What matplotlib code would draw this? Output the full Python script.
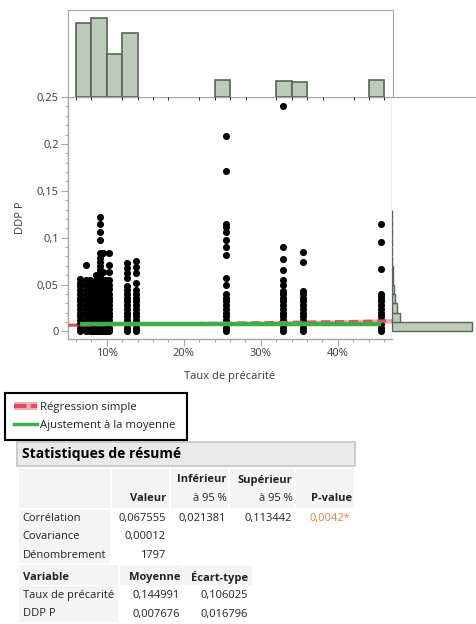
import numpy as np
import matplotlib
matplotlib.use("Agg")
import matplotlib.pyplot as plt
from matplotlib.patches import Rectangle, Patch
from matplotlib.lines import Line2D
from matplotlib.ticker import MultipleLocator, FixedLocator, FuncFormatter

plt.rcParams['font.family'] = ['Open Sans', 'DejaVu Sans']

#---------------------------Data---------------------------#
# scatter: one column of points per commune group (x = Taux de précarité)
col_x = [0.065, 0.0735, 0.078, 0.080, 0.082, 0.0845, 0.0865, 0.089, 0.091, 0.093,
         0.095, 0.097, 0.099, 0.101, 0.103, 0.126, 0.138, 0.2545, 0.329, 0.355, 0.456]
# dense lower part shared by every column (solid black mass)
dense_y = [0.0, 0.004, 0.008, 0.012, 0.016, 0.020, 0.024, 0.028, 0.032, 0.036, 0.040]
# upper points of each column
col_top = [
    [0.044, 0.048, 0.052, 0.056],
    [0.044, 0.049, 0.055, 0.071],
    [0.045, 0.050, 0.055],
    [0.044],
    [0.044, 0.048, 0.052],
    [0.044],
    [0.045, 0.050, 0.055, 0.060],
    [0.044],
    [0.045, 0.050, 0.055, 0.060, 0.065, 0.070, 0.074, 0.078, 0.084, 0.097, 0.106, 0.115, 0.122],
    [0.044],
    [0.045, 0.050, 0.055, 0.063, 0.084],
    [0.044],
    [0.045, 0.050, 0.055],
    [0.044],
    [0.045, 0.050, 0.055, 0.063, 0.071, 0.084],
    [0.044, 0.048, 0.057, 0.062, 0.068, 0.073],
    [0.044, 0.052, 0.062, 0.069, 0.075],
    [0.049, 0.057, 0.082, 0.090, 0.098, 0.106, 0.111, 0.115, 0.171, 0.208],
    [0.043, 0.050, 0.055, 0.065, 0.077, 0.090, 0.240],
    [0.043, 0.074, 0.085],
    [0.039, 0.067, 0.095, 0.115],
]

# marginal histogram of Taux de précarité (bins of 2 %)
taux_bin_left = [0.06, 0.08, 0.10, 0.12, 0.24, 0.32, 0.34, 0.44]
taux_counts = [407, 437, 239, 354, 96, 90, 81, 93]
taux_bin_width = 0.02

# marginal histogram of DDP P (bins of 0.01)
ddp_bin_low = [0.00, 0.01, 0.02, 0.03, 0.04, 0.05, 0.06, 0.07, 0.08, 0.09, 0.10, 0.11, 0.12]
ddp_counts = [1425, 150, 90, 54, 27, 20, 14, 5, 4, 4, 2, 2, 1]
ddp_bin_height = 0.01

# summary statistics
stat_rows = ["Corrélation", "Covariance", "Dénombrement"]
correlation = [0.067555, 0.021381, 0.113442]
p_value = 0.0042
covariance = 0.00012
n_obs = 1797
var_names = ["Taux de précarité", "DDP P"]
var_mean = [0.144991, 0.007676]
var_std = [0.106025, 0.016796]
#---------------------------------------------------------------------------------#

W, H = 476, 624


def fx(px):
    return px / W


def fy(py):
    return 1 - py / H


def fr(v, nd=6):
    return f"{v:.{nd}f}".replace('.', ',')


spine_col = '#a6a6a6'
text_col = '#3a3a3a'
bar_face = '#bdcbbb'
bar_edge = '#5b645a'
red = '#e0505f'
green = '#3fae49'
fs = 8

fig = plt.figure(figsize=(W / 100, H / 100), dpi=100)
fig.patch.set_facecolor('white')

ax = fig.add_axes([fx(68), fy(339), fx(324), 242 / H])
ax_top = fig.add_axes([fx(68), fy(97), fx(324.5), 87 / H], sharex=ax)
ax_right = fig.add_axes([fx(392), fy(339), fx(84), 242 / H], sharey=ax)

xlim = (0.0497, 0.4705)
ylim = (-0.0081, 0.25)

# scatter points
xs, ys = [], []
for x, top in zip(col_x, col_top):
    for y in dense_y + top:
        xs.append(x)
        ys.append(y)
ax.scatter(xs, ys, s=26, color='black', linewidths=0, zorder=2)

# simple regression from the summary statistics
r = correlation[0]
slope = r * var_std[1] / var_std[0]
intercept = var_mean[1] - slope * var_mean[0]
xr = np.linspace(xlim[0], xlim[1], 200)
yr = intercept + slope * xr
s_res = var_std[1] * np.sqrt(1 - r ** 2) * np.sqrt((n_obs - 1) / (n_obs - 2))
se = s_res * np.sqrt(1 / n_obs + (xr - var_mean[0]) ** 2 / ((n_obs - 1) * var_std[0] ** 2))
ax.fill_between(xr, yr - 1.96 * se, yr + 1.96 * se, color=red, alpha=0.45, lw=0, zorder=3)
ax.plot(xr, yr, color=red, lw=2.2, dashes=(3, 1.6), zorder=3)

# fit to the mean
ax.plot([min(col_x), max(col_x)], [var_mean[1], var_mean[1]], color=green, lw=3.2,
        solid_capstyle='butt', zorder=4)

ax.set_xlim(*xlim)
ax.set_ylim(*ylim)
ax.xaxis.set_major_locator(FixedLocator([0.1, 0.2, 0.3, 0.4]))
ax.xaxis.set_minor_locator(MultipleLocator(0.02))
ax.xaxis.set_major_formatter(FuncFormatter(lambda v, p: f"{v * 100:.0f}%"))
ax.yaxis.set_major_locator(MultipleLocator(0.05))
ax.yaxis.set_minor_locator(MultipleLocator(0.01))
ax.yaxis.set_major_formatter(FuncFormatter(lambda v, p: f"{v:g}".replace('.', ',')))
ax.tick_params(which='major', direction='out', length=5, width=0.8, color=spine_col,
               labelsize=fs, labelcolor=text_col, pad=1.5)
ax.tick_params(which='minor', direction='out', length=2.5, width=0.8, color=spine_col)
for sp in ax.spines.values():
    sp.set_color(spine_col)
    sp.set_linewidth(1)

ax.set_xlabel("Taux de précarité", fontsize=fs, color=text_col)
ax.xaxis.set_label_coords(0.5, -0.157)
ax.xaxis.label.set_va('center')
ax.set_ylabel("DDP P", fontsize=fs, color=text_col)
ax.yaxis.set_label_coords(-0.148, 0.5)
ax.yaxis.label.set_va('center')

# top histogram
ax_top.bar(taux_bin_left, taux_counts, width=taux_bin_width, align='edge',
           color=bar_face, edgecolor=bar_edge, linewidth=1.2)
ax_top.set_ylim(0, max(taux_counts) * 87 / 79.4)
ax_top.tick_params(left=False, bottom=False, labelleft=False, labelbottom=False)
ax_top.spines['bottom'].set_visible(False)
for k in ['left', 'top', 'right']:
    ax_top.spines[k].set_color(spine_col)

# right histogram
ax_right.barh(ddp_bin_low, ddp_counts, height=ddp_bin_height, align='edge',
              color=bar_face, edgecolor=bar_edge, linewidth=1.0)
ax_right.set_xlim(0, max(ddp_counts) * 84 / 79.7)
ax_right.tick_params(left=False, bottom=False, labelleft=False, labelbottom=False,
                     which='both')
for k in ['left', 'right', 'bottom']:
    ax_right.spines[k].set_visible(False)
ax_right.spines['top'].set_color(spine_col)

# legend
handles = [(Patch(facecolor=red, alpha=0.45, lw=0), Line2D([], [], color=red, lw=3, dashes=(3, 1))),
           Line2D([], [], color=green, lw=2.5)]
leg = fig.legend(handles, ["Régression simple", "Ajustement à la moyenne"],
                 loc='upper left', bbox_to_anchor=(fx(5), fy(441), fx(182), 48 / H),
                 mode='expand', borderaxespad=0, fontsize=8.2, handlelength=2.0,
                 handletextpad=0.3, borderpad=0.8, labelspacing=0.6,
                 fancybox=False, framealpha=1)
leg.get_frame().set_edgecolor('black')
leg.get_frame().set_linewidth(1.5)
for t in leg.get_texts():
    t.set_color('#222222')

# summary table


def cell(x0, y0, x1, y1, fc='#f4f4f4', ec='none', lw=0):
    fig.add_artist(Rectangle((fx(x0), fy(y1)), fx(x1 - x0), (y1 - y0) / H,
                             facecolor=fc, edgecolor=ec, linewidth=lw,
                             transform=fig.transFigure, zorder=0))


def txt(x, y, s, ha='left', bold=False, color='#222222', size=fs):
    fig.text(fx(x), fy(y), s, ha=ha, va='center', fontsize=size, color=color,
             fontweight='bold' if bold else 'normal')


cell(17.3, 442.3, 355, 465.7, fc='#e9e9e9', ec='#c4c4c4', lw=1.2)
txt(21.7, 454, "Statistiques de résumé", bold=True, size=10, color='black')

for x0, x1 in [(19.3, 110), (111.7, 169.3), (170.7, 228.3), (230, 294), (296, 354.3)]:
    cell(x0, 468.3, x1, 508.3)
cell(19.3, 509.5, 110, 563.3)
txt(166.7, 498.3, "Valeur", ha='right', bold=True)
txt(226.7, 480, "Inférieur", ha='right', bold=True)
txt(226.7, 498.3, "à 95 %", ha='right')
txt(292.7, 480, "Supérieur", ha='right', bold=True)
txt(292.7, 498.3, "à 95 %", ha='right')
txt(351.7, 498.3, "P-value", ha='right', bold=True)

row_y = [518.3, 536.7, 555]
for name, y in zip(stat_rows, row_y):
    txt(22.7, y, name)
txt(165.7, row_y[0], fr(correlation[0]), ha='right')
txt(225.7, row_y[0], fr(correlation[1]), ha='right')
txt(292.3, row_y[0], fr(correlation[2]), ha='right')
txt(350, row_y[0], fr(p_value, 4) + "*", ha='right', color='#ee8040')
txt(165.7, row_y[1], fr(covariance, 5), ha='right')
txt(165.7, row_y[2], str(n_obs), ha='right')

for x0, x1 in [(19.3, 118.3), (120, 181.7), (183.3, 251.7)]:
    cell(x0, 565, x1, 585)
cell(19.3, 586.3, 118.3, 622)
txt(22.7, 577.3, "Variable", bold=True)
txt(180, 577.3, "Moyenne", ha='right', bold=True)
txt(248.3, 577.3, "Écart-type", ha='right', bold=True)
for name, m, s, y in zip(var_names, var_mean, var_std, [595.7, 614]):
    txt(22.7, y, name)
    txt(180, y, fr(m), ha='right')
    txt(248.3, y, fr(s), ha='right')

fig.savefig("out.png", dpi=100)
